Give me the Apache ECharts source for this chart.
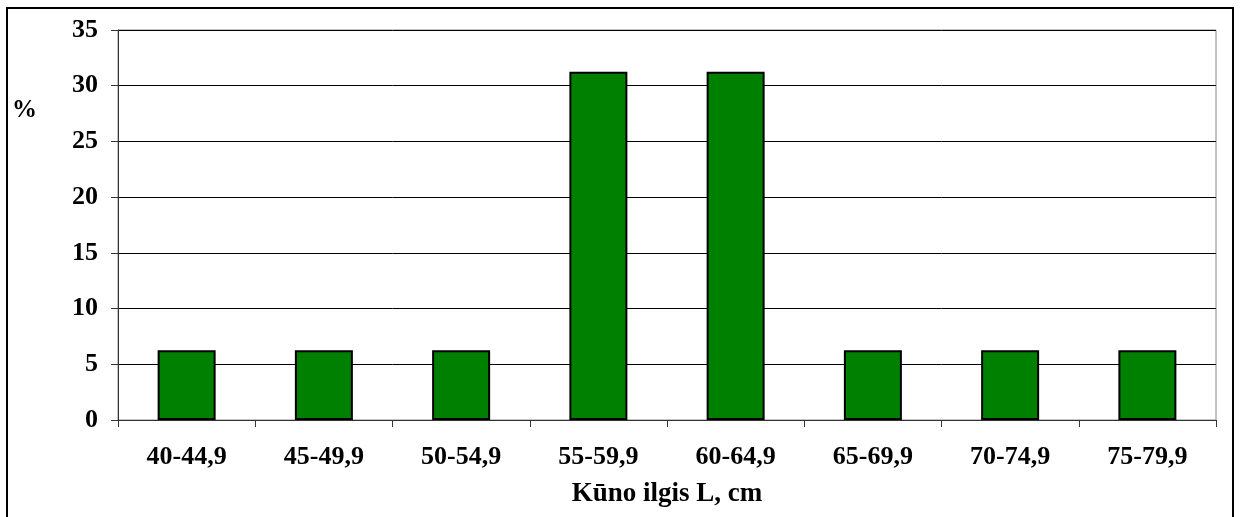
<!DOCTYPE html>
<html>
<head>
<meta charset="utf-8">
<script src="https://cdn.jsdelivr.net/npm/echarts@6/dist/echarts.min.js"></script>
<style>
html,body{margin:0;padding:0;background:#fff;}
#chart{width:1240px;height:517px;}
</style>
</head>
<body>
<div id="chart"></div>
<script>
const categories = ['40-44,9','45-49,9','50-54,9','55-59,9','60-64,9','65-69,9','70-74,9','75-79,9'];
const percentValues = [6.25, 6.25, 6.25, 31.25, 31.25, 6.25, 6.25, 6.25];
const xAxisTitle = 'Kūno ilgis L, cm';
const yAxisTitle = '%';

const FONT = '"Liberation Serif", "Times New Roman", serif';
const chart = echarts.init(document.getElementById('chart'), null, {renderer: 'canvas'});
chart.setOption({
  animation: false,
  backgroundColor: '#fff',
  grid: {left: 118, right: 24, top: 30, bottom: 97, show: true, borderColor: '#888', borderWidth: 1},
  xAxis: {
    type: 'category',
    data: categories,
    name: xAxisTitle,
    nameLocation: 'middle',
    nameGap: 61,
    nameTextStyle: {fontFamily: FONT, fontWeight: 'bold', fontSize: 27, color: '#000'},
    axisLine: {lineStyle: {color: '#333', width: 1}},
    axisTick: {show: true, alignWithLabel: false, length: 7, lineStyle: {color: '#333'}},
    axisLabel: {fontFamily: FONT, fontWeight: 'bold', fontSize: 26, color: '#000', margin: 24}
  },
  yAxis: {
    type: 'value',
    min: 0, max: 35, interval: 5,
    axisLine: {show: true, lineStyle: {color: '#333', width: 1}},
    axisTick: {show: true, length: 7, lineStyle: {color: '#333'}},
    axisLabel: {fontFamily: FONT, fontWeight: 'bold', fontSize: 26, color: '#000', margin: 20},
    splitLine: {show: true, lineStyle: {color: '#000', width: 1}}
  },
  series: [{
    type: 'bar',
    data: percentValues,
    barWidth: 58,
    itemStyle: {color: '#008000', borderColor: '#000', borderWidth: 2}
  }],
  graphic: [
    {type: 'rect', shape: {x: 7, y: 8, width: 1226, height: 540}, style: {fill: 'none', stroke: '#000', lineWidth: 2}, silent: true},
    {type: 'text', left: 12, top: 98, style: {text: yAxisTitle, font: 'bold 25px ' + FONT, fill: '#000'}}
  ]
});
</script>
</body>
</html>
